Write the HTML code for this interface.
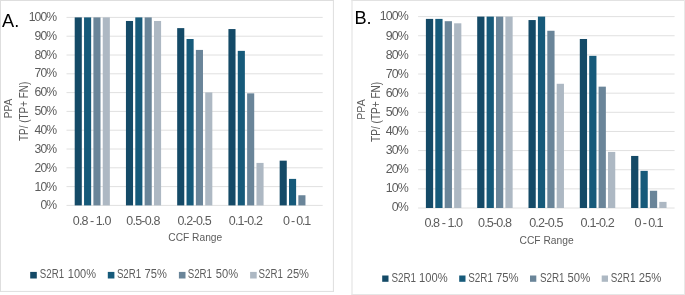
<!DOCTYPE html>
<html><head><meta charset="utf-8"><style>
html,body{margin:0;padding:0;background:#fff;width:685px;height:295px;overflow:hidden;}
svg{display:block;will-change:transform;}
text{font-family:"Liberation Sans",sans-serif;}
</style></head><body>
<svg width="685" height="295" viewBox="0 0 685 295">
<rect x="0" y="0" width="685" height="295" fill="#fff"/>
<line x1="0" y1="0.5" x2="333.9" y2="0.5" stroke="#dedede" stroke-width="1"/>
<line x1="0.5" y1="0" x2="0.5" y2="291.9" stroke="#dedede" stroke-width="1"/>
<line x1="333.4" y1="0" x2="333.4" y2="291.9" stroke="#dedede" stroke-width="1"/>
<line x1="0" y1="291.4" x2="333.9" y2="291.4" stroke="#dedede" stroke-width="1"/>
<line x1="66.5" y1="17.4" x2="322.7" y2="17.4" stroke="#e0e0e0" stroke-width="1"/>
<line x1="66.5" y1="36.2" x2="322.7" y2="36.2" stroke="#e0e0e0" stroke-width="1"/>
<line x1="66.5" y1="55" x2="322.7" y2="55" stroke="#e0e0e0" stroke-width="1"/>
<line x1="66.5" y1="73.8" x2="322.7" y2="73.8" stroke="#e0e0e0" stroke-width="1"/>
<line x1="66.5" y1="92.6" x2="322.7" y2="92.6" stroke="#e0e0e0" stroke-width="1"/>
<line x1="66.5" y1="111.4" x2="322.7" y2="111.4" stroke="#e0e0e0" stroke-width="1"/>
<line x1="66.5" y1="130.2" x2="322.7" y2="130.2" stroke="#e0e0e0" stroke-width="1"/>
<line x1="66.5" y1="149" x2="322.7" y2="149" stroke="#e0e0e0" stroke-width="1"/>
<line x1="66.5" y1="167.8" x2="322.7" y2="167.8" stroke="#e0e0e0" stroke-width="1"/>
<line x1="66.5" y1="186.6" x2="322.7" y2="186.6" stroke="#e0e0e0" stroke-width="1"/>
<line x1="66.5" y1="205.4" x2="322.7" y2="205.4" stroke="#e0e0e0" stroke-width="1"/>
<text x="56.3" y="20.9" font-size="12.2" fill="#5c5c5c" text-anchor="end" letter-spacing="-0.9">100%</text>
<text x="56.3" y="39.75" font-size="12.2" fill="#5c5c5c" text-anchor="end" letter-spacing="-0.9">90%</text>
<text x="56.3" y="58.6" font-size="12.2" fill="#5c5c5c" text-anchor="end" letter-spacing="-0.9">80%</text>
<text x="56.3" y="77.45" font-size="12.2" fill="#5c5c5c" text-anchor="end" letter-spacing="-0.9">70%</text>
<text x="56.3" y="96.3" font-size="12.2" fill="#5c5c5c" text-anchor="end" letter-spacing="-0.9">60%</text>
<text x="56.3" y="115.15" font-size="12.2" fill="#5c5c5c" text-anchor="end" letter-spacing="-0.9">50%</text>
<text x="56.3" y="134" font-size="12.2" fill="#5c5c5c" text-anchor="end" letter-spacing="-0.9">40%</text>
<text x="56.3" y="152.85" font-size="12.2" fill="#5c5c5c" text-anchor="end" letter-spacing="-0.9">30%</text>
<text x="56.3" y="171.7" font-size="12.2" fill="#5c5c5c" text-anchor="end" letter-spacing="-0.9">20%</text>
<text x="56.3" y="190.55" font-size="12.2" fill="#5c5c5c" text-anchor="end" letter-spacing="-0.9">10%</text>
<text x="56.3" y="209.4" font-size="12.2" fill="#5c5c5c" text-anchor="end" letter-spacing="-0.9">0%</text>
<rect x="74.7" y="17.4" width="7.1" height="188" fill="#144a67"/>
<rect x="84.05" y="17.4" width="7.1" height="188" fill="#165a7a"/>
<rect x="93.4" y="17.4" width="7.1" height="188" fill="#6a8599"/>
<rect x="102.75" y="17.4" width="7.1" height="188" fill="#adb8c3"/>
<rect x="125.94" y="20.97" width="7.1" height="184.43" fill="#144a67"/>
<rect x="135.29" y="17.4" width="7.1" height="188" fill="#165a7a"/>
<rect x="144.64" y="17.4" width="7.1" height="188" fill="#6a8599"/>
<rect x="153.99" y="20.97" width="7.1" height="184.43" fill="#adb8c3"/>
<rect x="177.18" y="28.12" width="7.1" height="177.28" fill="#144a67"/>
<rect x="186.53" y="39.02" width="7.1" height="166.38" fill="#165a7a"/>
<rect x="195.88" y="49.92" width="7.1" height="155.48" fill="#6a8599"/>
<rect x="205.23" y="92.41" width="7.1" height="112.99" fill="#adb8c3"/>
<rect x="228.42" y="29.06" width="7.1" height="176.34" fill="#144a67"/>
<rect x="237.77" y="50.86" width="7.1" height="154.54" fill="#165a7a"/>
<rect x="247.12" y="93.35" width="7.1" height="112.05" fill="#6a8599"/>
<rect x="256.47" y="162.91" width="7.1" height="42.49" fill="#adb8c3"/>
<rect x="279.66" y="160.66" width="7.1" height="44.74" fill="#144a67"/>
<rect x="289.01" y="178.89" width="7.1" height="26.51" fill="#165a7a"/>
<rect x="298.36" y="195.25" width="7.1" height="10.15" fill="#6a8599"/>
<text x="92.12" y="224.6" font-size="12.5" fill="#5c5c5c" text-anchor="middle" textLength="38.5" lengthAdjust="spacing">0.8 - 1.0</text>
<text x="143.36" y="224.6" font-size="12.5" fill="#5c5c5c" text-anchor="middle" textLength="34.1" lengthAdjust="spacing">0.5-0.8</text>
<text x="194.6" y="224.6" font-size="12.5" fill="#5c5c5c" text-anchor="middle" textLength="34.4" lengthAdjust="spacing">0.2-0.5</text>
<text x="245.84" y="224.6" font-size="12.5" fill="#5c5c5c" text-anchor="middle" textLength="34.2" lengthAdjust="spacing">0.1-0.2</text>
<text x="297.08" y="224.6" font-size="12.5" fill="#5c5c5c" text-anchor="middle" textLength="28.4" lengthAdjust="spacing">0 - 0.1</text>
<text x="195.25" y="241.3" font-size="11" fill="#5c5c5c" text-anchor="middle" textLength="54" lengthAdjust="spacingAndGlyphs">CCF Range</text>
<text transform="translate(12.4 108.5) rotate(-90)" font-size="11.1" fill="#5c5c5c" text-anchor="middle" textLength="19.4" lengthAdjust="spacingAndGlyphs">PPA</text>
<text transform="translate(27.8 111.4) rotate(-90)" font-size="11.9" fill="#5c5c5c" text-anchor="middle" textLength="59.2" lengthAdjust="spacingAndGlyphs">TP/ (TP+ FN)</text>
<text x="2" y="27.1" font-size="18.2" fill="#000">A.</text>
<rect x="30.2" y="271.9" width="6.6" height="6.6" fill="#144a67"/>
<text x="39.8" y="278.1" font-size="12.5" fill="#5c5c5c" textLength="24.3" lengthAdjust="spacingAndGlyphs">S2R1</text>
<text x="96" y="278.1" font-size="12.5" fill="#5c5c5c" text-anchor="end" textLength="28.2" lengthAdjust="spacingAndGlyphs">100%</text>
<rect x="107.8" y="271.9" width="6.6" height="6.6" fill="#165a7a"/>
<text x="116.9" y="278.1" font-size="12.5" fill="#5c5c5c" textLength="24.3" lengthAdjust="spacingAndGlyphs">S2R1</text>
<text x="166.9" y="278.1" font-size="12.5" fill="#5c5c5c" text-anchor="end" textLength="22.3" lengthAdjust="spacingAndGlyphs">75%</text>
<rect x="178.9" y="271.9" width="6.6" height="6.6" fill="#6a8599"/>
<text x="187.7" y="278.1" font-size="12.5" fill="#5c5c5c" textLength="24.3" lengthAdjust="spacingAndGlyphs">S2R1</text>
<text x="238.1" y="278.1" font-size="12.5" fill="#5c5c5c" text-anchor="end" textLength="22.3" lengthAdjust="spacingAndGlyphs">50%</text>
<rect x="250.1" y="271.9" width="6.6" height="6.6" fill="#adb8c3"/>
<text x="258.6" y="278.1" font-size="12.5" fill="#5c5c5c" textLength="24.3" lengthAdjust="spacingAndGlyphs">S2R1</text>
<text x="309" y="278.1" font-size="12.5" fill="#5c5c5c" text-anchor="end" textLength="22.3" lengthAdjust="spacingAndGlyphs">25%</text>
<line x1="351.5" y1="0.5" x2="685" y2="0.5" stroke="#e2e2e2" stroke-width="1"/>
<line x1="352" y1="0" x2="352" y2="295" stroke="#e4e4e4" stroke-width="1.2"/>
<line x1="684.5" y1="0" x2="684.5" y2="295" stroke="#e8e8e8" stroke-width="1"/>
<line x1="351.5" y1="294.5" x2="685" y2="294.5" stroke="#e6e6e6" stroke-width="1"/>
<line x1="418.1" y1="16.6" x2="674.6" y2="16.6" stroke="#e0e0e0" stroke-width="1"/>
<line x1="418.1" y1="35.74" x2="674.6" y2="35.74" stroke="#e0e0e0" stroke-width="1"/>
<line x1="418.1" y1="54.88" x2="674.6" y2="54.88" stroke="#e0e0e0" stroke-width="1"/>
<line x1="418.1" y1="74.02" x2="674.6" y2="74.02" stroke="#e0e0e0" stroke-width="1"/>
<line x1="418.1" y1="93.16" x2="674.6" y2="93.16" stroke="#e0e0e0" stroke-width="1"/>
<line x1="418.1" y1="112.3" x2="674.6" y2="112.3" stroke="#e0e0e0" stroke-width="1"/>
<line x1="418.1" y1="131.44" x2="674.6" y2="131.44" stroke="#e0e0e0" stroke-width="1"/>
<line x1="418.1" y1="150.58" x2="674.6" y2="150.58" stroke="#e0e0e0" stroke-width="1"/>
<line x1="418.1" y1="169.72" x2="674.6" y2="169.72" stroke="#e0e0e0" stroke-width="1"/>
<line x1="418.1" y1="188.86" x2="674.6" y2="188.86" stroke="#e0e0e0" stroke-width="1"/>
<line x1="418.1" y1="208" x2="674.6" y2="208" stroke="#e0e0e0" stroke-width="1"/>
<text x="407.9" y="20.45" font-size="12.4" fill="#5c5c5c" text-anchor="end" letter-spacing="-0.9">100%</text>
<text x="407.9" y="39.55" font-size="12.4" fill="#5c5c5c" text-anchor="end" letter-spacing="-0.9">90%</text>
<text x="407.9" y="58.65" font-size="12.4" fill="#5c5c5c" text-anchor="end" letter-spacing="-0.9">80%</text>
<text x="407.9" y="77.75" font-size="12.4" fill="#5c5c5c" text-anchor="end" letter-spacing="-0.9">70%</text>
<text x="407.9" y="96.85" font-size="12.4" fill="#5c5c5c" text-anchor="end" letter-spacing="-0.9">60%</text>
<text x="407.9" y="115.95" font-size="12.4" fill="#5c5c5c" text-anchor="end" letter-spacing="-0.9">50%</text>
<text x="407.9" y="135.05" font-size="12.4" fill="#5c5c5c" text-anchor="end" letter-spacing="-0.9">40%</text>
<text x="407.9" y="154.15" font-size="12.4" fill="#5c5c5c" text-anchor="end" letter-spacing="-0.9">30%</text>
<text x="407.9" y="173.25" font-size="12.4" fill="#5c5c5c" text-anchor="end" letter-spacing="-0.9">20%</text>
<text x="407.9" y="192.35" font-size="12.4" fill="#5c5c5c" text-anchor="end" letter-spacing="-0.9">10%</text>
<text x="407.9" y="211.45" font-size="12.4" fill="#5c5c5c" text-anchor="end" letter-spacing="-0.9">0%</text>
<rect x="425.9" y="18.9" width="7.25" height="189.1" fill="#144a67"/>
<rect x="435.3" y="18.9" width="7.25" height="189.1" fill="#165a7a"/>
<rect x="444.7" y="21.19" width="7.25" height="186.81" fill="#6a8599"/>
<rect x="454.1" y="23.3" width="7.25" height="184.7" fill="#adb8c3"/>
<rect x="477.2" y="16.6" width="7.25" height="191.4" fill="#144a67"/>
<rect x="486.6" y="16.6" width="7.25" height="191.4" fill="#165a7a"/>
<rect x="496" y="16.6" width="7.25" height="191.4" fill="#6a8599"/>
<rect x="505.4" y="16.6" width="7.25" height="191.4" fill="#adb8c3"/>
<rect x="528.5" y="20.05" width="7.25" height="187.95" fill="#144a67"/>
<rect x="537.9" y="16.6" width="7.25" height="191.4" fill="#165a7a"/>
<rect x="547.3" y="30.76" width="7.25" height="177.24" fill="#6a8599"/>
<rect x="556.7" y="83.78" width="7.25" height="124.22" fill="#adb8c3"/>
<rect x="579.8" y="38.99" width="7.25" height="169.01" fill="#144a67"/>
<rect x="589.2" y="55.84" width="7.25" height="152.16" fill="#165a7a"/>
<rect x="598.6" y="86.65" width="7.25" height="121.35" fill="#6a8599"/>
<rect x="608" y="151.92" width="7.25" height="56.08" fill="#adb8c3"/>
<rect x="631.1" y="155.94" width="7.25" height="52.06" fill="#144a67"/>
<rect x="640.5" y="170.87" width="7.25" height="37.13" fill="#165a7a"/>
<rect x="649.9" y="190.77" width="7.25" height="17.23" fill="#6a8599"/>
<rect x="659.3" y="201.88" width="7.25" height="6.12" fill="#adb8c3"/>
<text x="443.75" y="227.4" font-size="12.6" fill="#5c5c5c" text-anchor="middle" textLength="38.7" lengthAdjust="spacing">0.8 - 1.0</text>
<text x="495.05" y="227.4" font-size="12.6" fill="#5c5c5c" text-anchor="middle" textLength="34" lengthAdjust="spacing">0.5-0.8</text>
<text x="546.35" y="227.4" font-size="12.6" fill="#5c5c5c" text-anchor="middle" textLength="34.4" lengthAdjust="spacing">0.2-0.5</text>
<text x="597.65" y="227.4" font-size="12.6" fill="#5c5c5c" text-anchor="middle" textLength="34.2" lengthAdjust="spacing">0.1-0.2</text>
<text x="648.95" y="227.4" font-size="12.6" fill="#5c5c5c" text-anchor="middle" textLength="28.9" lengthAdjust="spacing">0 - 0.1</text>
<text x="546.6" y="244.2" font-size="11.4" fill="#5c5c5c" text-anchor="middle" textLength="54.2" lengthAdjust="spacingAndGlyphs">CCF Range</text>
<text transform="translate(364.8 109.5) rotate(-90)" font-size="11.4" fill="#5c5c5c" text-anchor="middle" textLength="20.5" lengthAdjust="spacingAndGlyphs">PPA</text>
<text transform="translate(379.8 111.85) rotate(-90)" font-size="12.1" fill="#5c5c5c" text-anchor="middle" textLength="60.1" lengthAdjust="spacingAndGlyphs">TP/ (TP+ FN)</text>
<text x="354.4" y="24.1" font-size="18.2" fill="#000">B.</text>
<rect x="382.2" y="275.5" width="6.3" height="6.3" fill="#144a67"/>
<text x="391.4" y="281.9" font-size="12.7" fill="#5c5c5c" textLength="24.65" lengthAdjust="spacingAndGlyphs">S2R1</text>
<text x="447.7" y="281.9" font-size="12.7" fill="#5c5c5c" text-anchor="end" textLength="28.6" lengthAdjust="spacingAndGlyphs">100%</text>
<rect x="459.2" y="275.5" width="6.3" height="6.3" fill="#165a7a"/>
<text x="468.3" y="281.9" font-size="12.7" fill="#5c5c5c" textLength="24.65" lengthAdjust="spacingAndGlyphs">S2R1</text>
<text x="518.6" y="281.9" font-size="12.7" fill="#5c5c5c" text-anchor="end" textLength="22.62" lengthAdjust="spacingAndGlyphs">75%</text>
<rect x="530" y="275.5" width="6.3" height="6.3" fill="#6a8599"/>
<text x="539.9" y="281.9" font-size="12.7" fill="#5c5c5c" textLength="24.65" lengthAdjust="spacingAndGlyphs">S2R1</text>
<text x="590.2" y="281.9" font-size="12.7" fill="#5c5c5c" text-anchor="end" textLength="22.62" lengthAdjust="spacingAndGlyphs">50%</text>
<rect x="601.7" y="275.5" width="6.3" height="6.3" fill="#adb8c3"/>
<text x="610.8" y="281.9" font-size="12.7" fill="#5c5c5c" textLength="24.65" lengthAdjust="spacingAndGlyphs">S2R1</text>
<text x="661.4" y="281.9" font-size="12.7" fill="#5c5c5c" text-anchor="end" textLength="22.62" lengthAdjust="spacingAndGlyphs">25%</text>
</svg>
</body></html>
